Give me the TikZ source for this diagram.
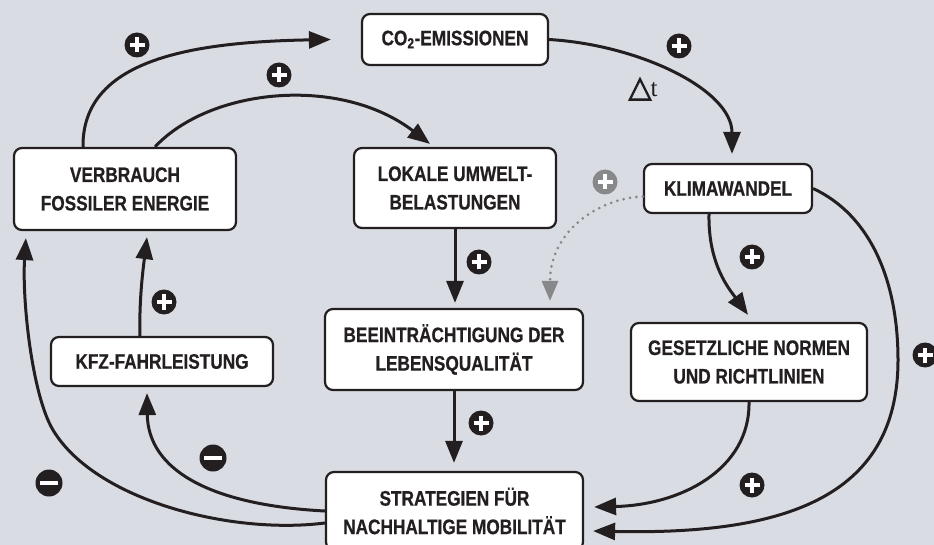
\documentclass[tikz,border=0pt]{standalone}
\usepackage{fontspec}
\newfontfamily\condfont{Liberation Sans}[FakeStretch=0.82, FakeBold=0.6]
\newfontfamily\triafont{DejaVu Sans}[FakeBold=2.5]
\newfontfamily\tfont{Liberation Serif}
\usetikzlibrary{arrows.meta}
\definecolor{bgGray}{RGB}{217,220,227}
\definecolor{inkBlack}{RGB}{35,31,32}
\definecolor{dotGray}{RGB}{135,136,138}

\begin{document}
\begin{tikzpicture}
[x=1pt, y=-1pt,
 every node/.style={align=center},
 nodeBox/.style={draw=inkBlack, fill=white, line width=2.2pt, rounded corners=8pt,
   inner sep=0pt, text=inkBlack,
   font=\condfont\bfseries\fontsize{21}{28.5}\selectfont},
 arr/.style={draw=inkBlack, line width=3pt,
   -{Triangle[length=22pt, width=17pt]}},
 dotArr/.style={draw=dotGray, line width=3pt, line cap=round,
   dash pattern=on 0pt off 6.5pt, -{Triangle[length=20pt, width=16pt]}},
 signPlus/.style={circle, fill=inkBlack, minimum size=25pt, inner sep=0pt,
   path picture={\draw[white, line width=3.8pt]
     ([xshift=-7.5pt]path picture bounding box.center)
       -- ([xshift=7.5pt]path picture bounding box.center)
     ([yshift=-7.5pt]path picture bounding box.center)
       -- ([yshift=7.5pt]path picture bounding box.center);}},
 signMinus/.style={circle, fill=inkBlack, minimum size=27pt, inner sep=0pt,
   path picture={\draw[white, line width=3.2pt]
     ([xshift=-9pt]path picture bounding box.center)
       -- ([xshift=9pt]path picture bounding box.center);}}
]
\useasboundingbox (0,0) rectangle (934,545);
\fill[bgGray] (0,0) rectangle (934,545);

\node[nodeBox, minimum width=186pt, minimum height=51pt] (co2) at (455,39.5)
  {CO\textsubscript{2}-EMISSIONEN};
\node[nodeBox, minimum width=222pt, minimum height=82pt] (verb) at (125,189)
  {VERBRAUCH\\ FOSSILER ENERGIE};
\node[nodeBox, minimum width=202pt, minimum height=80pt] (lokal) at (455,188)
  {LOKALE UMWELT-\\ BELASTUNGEN};
\node[nodeBox, minimum width=168pt, minimum height=49pt] (klima) at (728,188.5)
  {KLIMAWANDEL};
\node[nodeBox, minimum width=222pt, minimum height=49pt] (kfz) at (162,361.5)
  {KFZ-FAHRLEISTUNG};
\node[nodeBox, minimum width=258pt, minimum height=81pt] (beein) at (454,349.5)
  {BEEINTRÄCHTIGUNG DER\\ LEBENSQUALITÄT};
\node[nodeBox, minimum width=236pt, minimum height=78pt] (gesetz) at (749,362)
  {GESETZLICHE NORMEN\\ UND RICHTLINIEN};
\node[nodeBox, minimum width=257pt, minimum height=78pt] (strat) at (454.5,511)
  {STRATEGIEN FÜR\\ NACHHALTIGE MOBILITÄT};

\node[text=inkBlack, inner sep=0pt] (dt) at (643,89)
  {{\triafont\fontsize{30}{30}\selectfont △}\kern-1pt{\tfont\fontsize{25}{25}\selectfont t}};

% connectors
\draw[arr] ([xshift=-42pt]verb.north) .. controls (82,60) and (190,42)
  .. ([xshift=-30pt]co2.west);
\draw[arr] ([xshift=30pt]verb.north) .. controls (210,88) and (340,75)
  .. ([xshift=-25pt,yshift=3pt]lokal.north);
\draw[arr] (co2.east) .. controls (640,45) and (732,90)
  .. ([xshift=4pt,yshift=9pt]klima.north);
\draw[arr, shorten >=5pt] (lokal.south) -- (lokal.south |- beein.north);
\draw[arr, shorten >=8pt] (beein.south) -- (beein.south |- strat.north);
\draw[arr] ([xshift=-19pt]klima.south) .. controls (708,265) and (730,290)
  .. ([xshift=-1pt,yshift=7pt]gesetz.north);
\draw[arr] (klima.east) .. controls (870,215) and (898,280) .. (898,360)
  .. controls (898,500) and (780,535) .. ([xshift=9pt,yshift=-20pt]strat.east);
\draw[arr] (gesetz.south) .. controls (750,470) and (680,505)
  .. ([xshift=10pt,yshift=4pt]strat.east);
\draw[arr] (strat.west) .. controls (210,505) and (148,470)
  .. ([xshift=-15pt,yshift=-6pt]kfz.south);
\draw[arr] ([yshift=-12pt]strat.west) .. controls (230,535) and (95,500) .. (53,430)
  .. controls (32,395) and (22,300) .. ([xshift=13pt,yshift=-7pt]verb.south west);
\draw[arr] ([xshift=-22pt]kfz.north) .. controls (139,300) and (143,270)
  .. ([xshift=22pt,yshift=-6pt]verb.south);
\draw[dotArr] ([yshift=-8pt]klima.west) .. controls (600,198) and (550,230)
  .. ([xshift=96pt,yshift=7pt]beein.north);

% signs
\node[signPlus] (p1) at (137,45) {};
\node[signPlus] (p2) at (279,75) {};
\node[signPlus] (p3) at (679,46) {};
\node[signPlus] (p4) at (479,262) {};
\node[signPlus] (p5) at (481,423) {};
\node[signPlus] (p6) at (164,302) {};
\node[signPlus] (p7) at (752,257) {};
\node[signPlus] (p8) at (752,485) {};
\node[signPlus] (p9) at (925,355) {};
\node[signPlus, fill=dotGray] (p10) at (605,182) {};
\node[signMinus] (m1) at (213,458) {};
\node[signMinus] (m2) at (49,483) {};
\end{tikzpicture}
\end{document}
